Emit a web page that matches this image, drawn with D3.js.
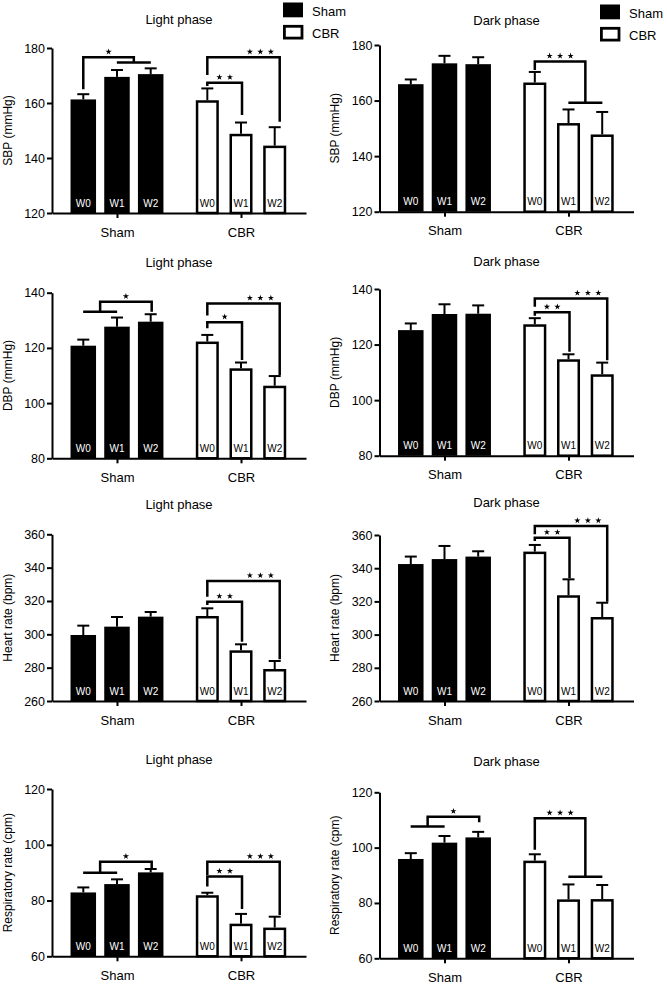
<!DOCTYPE html>
<html><head><meta charset="utf-8">
<script src="https://cdn.jsdelivr.net/npm/d3@7"></script>
<style>
body{margin:0;background:#fff}
svg{display:block}
text{font-family:"Liberation Sans",Arial,Helvetica,sans-serif;fill:#000}
</style>
</head><body>
<svg id="chart" width="667" height="984"></svg>
<script>
// ---------- data ----------
const groups = ["Sham", "CBR"];
const weeks = ["W0", "W1", "W2"];
const phases = ["Light phase", "Dark phase"];
const measures = ["SBP (mmHg)", "DBP (mmHg)", "Heart rate (bpm)", "Respiratory rate (cpm)"];

const sbpTicks = [120, 140, 160, 180];
const dbpTicks = [80, 100, 120, 140];
const hrTicks = [260, 280, 300, 320, 340, 360];
const rrTicks = [60, 80, 100, 120];

// order: Sham W0,W1,W2, CBR W0,W1,W2
const sbpLightMean = [161.3, 169.5, 170.5, 161.0, 148.8, 144.5];
const sbpLightSem  = [1.9, 2.5, 2.1, 4.3, 4.1, 6.7];
const sbpDarkMean  = [165.9, 173.4, 173.1, 166.5, 151.9, 147.8];
const sbpDarkSem   = [1.7, 2.7, 2.5, 3.8, 4.9, 8.1];
const dbpLightMean = [120.8, 127.7, 129.5, 122.3, 112.6, 106.3];
const dbpLightSem  = [2.2, 3.3, 2.7, 2.4, 2.1, 3.5];
const dbpDarkMean  = [125.2, 131.0, 131.1, 127.3, 114.7, 109.3];
const dbpDarkSem   = [2.4, 3.5, 3.0, 2.2, 1.8, 4.2];
const hrLightMean  = [299.6, 304.6, 310.6, 311.0, 290.4, 279.2];
const hrLightSem   = [5.6, 5.8, 2.8, 4.6, 3.6, 4.8];
const hrDarkMean   = [342.5, 345.5, 347.0, 350.0, 323.7, 310.6];
const hrDarkSem    = [4.5, 7.9, 3.2, 4.0, 9.6, 8.6];
const rrLightMean  = [82.9, 85.9, 90.1, 81.9, 71.7, 70.3];
const rrLightSem   = [1.8, 1.7, 1.2, 0.9, 3.5, 3.9];
const rrDarkMean   = [95.9, 101.8, 103.7, 95.3, 81.3, 81.4];
const rrDarkSem    = [2.1, 2.4, 2.0, 2.3, 5.4, 5.1];

// significance brackets (values in data units)
const sbpLightSig = [
  {group: "Sham", left: [0], leftEnd: 165.0, right: [1, 2], rightEnd: 174.7, top: 176.6, label: "*"},
  {group: "CBR", left: [0], leftEnd: 170.2, right: [2], rightEnd: 153.2, top: 176.6, label: "***"},
  {group: "CBR", left: [0], leftEnd: 166.2, right: [1], rightEnd: 155.6, top: 167.4, label: "**"}
];
const sbpDarkSig = [
  {group: "CBR", left: [0], leftEnd: 171.0, right: [1, 2], rightEnd: 159.2, top: 174.1, label: "***"}
];
const dbpLightSig = [
  {group: "Sham", left: [0, 1], leftEnd: 133.1, right: [2], rightEnd: 133.1, top: 136.7, label: "*"},
  {group: "CBR", left: [0], leftEnd: 131.7, right: [2], rightEnd: 110.2, top: 136.1, label: "***"},
  {group: "CBR", left: [0], leftEnd: 127.1, right: [1], rightEnd: 115.6, top: 129.3, label: "*"}
];
const dbpDarkSig = [
  {group: "CBR", left: [0], leftEnd: 133.6, right: [2], rightEnd: 114.4, top: 136.6, label: "***"},
  {group: "CBR", left: [0], leftEnd: 130.4, right: [1], rightEnd: 117.4, top: 131.6, label: "**"}
];
const hrLightSig = [
  {group: "CBR", left: [0], leftEnd: 322.6, right: [2], rightEnd: 285.0, top: 332.0, label: "***"},
  {group: "CBR", left: [0], leftEnd: 317.6, right: [1], rightEnd: 295.6, top: 319.6, label: "**"}
];
const hrDarkSig = [
  {group: "CBR", left: [0], leftEnd: 360.4, right: [2], rightEnd: 319.8, top: 365.4, label: "***"},
  {group: "CBR", left: [0], leftEnd: 356.4, right: [1], rightEnd: 333.9, top: 358.4, label: "**"}
];
const rrLightSig = [
  {group: "Sham", left: [0, 1], leftEnd: 90.0, right: [2], rightEnd: 91.0, top: 93.9, label: "*"},
  {group: "CBR", left: [0], leftEnd: 89.2, right: [2], rightEnd: 74.8, top: 93.9, label: "***"},
  {group: "CBR", left: [0], leftEnd: 85.0, right: [1], rightEnd: 77.0, top: 88.6, label: "**"}
];
const rrDarkSig = [
  {group: "Sham", left: [0, 1], leftEnd: 107.6, right: [2], rightEnd: 109.2, top: 111.2, label: "*"},
  {group: "CBR", left: [0], leftEnd: 99.2, right: [1, 2], rightEnd: 89.5, top: 110.6, label: "***"}
];

const panels = [
  {row: 0, col: 0, measure: measures[0], phase: phases[0], ticks: sbpTicks, mean: sbpLightMean, sem: sbpLightSem, sig: sbpLightSig},
  {row: 0, col: 1, measure: measures[0], phase: phases[1], ticks: sbpTicks, mean: sbpDarkMean, sem: sbpDarkSem, sig: sbpDarkSig},
  {row: 1, col: 0, measure: measures[1], phase: phases[0], ticks: dbpTicks, mean: dbpLightMean, sem: dbpLightSem, sig: dbpLightSig},
  {row: 1, col: 1, measure: measures[1], phase: phases[1], ticks: dbpTicks, mean: dbpDarkMean, sem: dbpDarkSem, sig: dbpDarkSig},
  {row: 2, col: 0, measure: measures[2], phase: phases[0], ticks: hrTicks, mean: hrLightMean, sem: hrLightSem, sig: hrLightSig},
  {row: 2, col: 1, measure: measures[2], phase: phases[1], ticks: hrTicks, mean: hrDarkMean, sem: hrDarkSem, sig: hrDarkSig},
  {row: 3, col: 0, measure: measures[3], phase: phases[0], ticks: rrTicks, mean: rrLightMean, sem: rrLightSem, sig: rrLightSig},
  {row: 3, col: 1, measure: measures[3], phase: phases[1], ticks: rrTicks, mean: rrDarkMean, sem: rrDarkSem, sig: rrDarkSig}
];

// ---------- layout ----------
const colX = [52, 379.5];
const plotW = 254;
const plotTop = [[48, 45], [292.7, 289], [534.3, 535], [789, 792.3]];
const plotBottom = [[213, 211.7], [458.3, 455.7], [701, 701], [956.3, 958.3]];
const titleY = [[24, 24.5], [266.7, 265.7], [509, 507], [764, 765.7]];
const legendPos = [[283, 2.5], [600, 4.5]];

const svg = d3.select("#chart");

const x0 = d3.scalePoint().domain(groups).range([0, plotW]).padding(0.524);
const x1 = d3.scaleBand().domain(weeks).range([-50.5, 50.5]).paddingInner(0.243).paddingOuter(0.12);
const bw = x1.bandwidth();
const cx = (g, wi) => x0(g) + x1(weeks[wi]) + bw / 2;
const starPath = d3.symbol().type(d3.symbolStar).size(12)();

panels.forEach(p => {
  const ax = colX[p.col];
  const top = plotTop[p.row][p.col];
  const bottom = plotBottom[p.row][p.col];
  const y = d3.scaleLinear().domain([p.ticks[0], p.ticks[p.ticks.length - 1]]).range([bottom, top]);
  const g = svg.append("g").attr("transform", `translate(${ax},0)`);

  // title
  g.append("text").attr("x", plotW / 2).attr("y", titleY[p.row][p.col])
    .attr("text-anchor", "middle").style("font-size", "13px").text(p.phase);

  // y title
  g.append("text")
    .attr("transform", `translate(-40.5,${(top + bottom) / 2}) rotate(-90)`)
    .attr("text-anchor", "middle").style("font-size", "12px").text(p.measure);

  // bars
  const rows = [];
  groups.forEach((gr, gi) => weeks.forEach((w, wi) => {
    rows.push({group: gr, gi, wi, week: w, mean: p.mean[gi * 3 + wi], sem: p.sem[gi * 3 + wi]});
  }));

  rows.forEach(d => {
    const c = cx(d.group, d.wi);
    const yt = y(d.mean);
    if (d.gi === 0) {
      g.append("rect").attr("x", c - bw / 2).attr("y", yt).attr("width", bw).attr("height", bottom - yt)
        .attr("fill", "#000");
    } else {
      const ow = bw - 2.5, sw = 2.5;
      g.append("rect").attr("x", c - ow / 2 + sw / 2).attr("y", yt + sw / 2)
        .attr("width", ow - sw).attr("height", bottom - yt - sw / 2)
        .attr("fill", "#fff").attr("stroke", "#000").attr("stroke-width", sw);
    }
    const ye = y(d.mean + d.sem);
    g.append("line").attr("x1", c).attr("x2", c).attr("y1", yt).attr("y2", ye)
      .attr("stroke", "#000").attr("stroke-width", 2);
    g.append("line").attr("x1", c - 6).attr("x2", c + 6).attr("y1", ye).attr("y2", ye)
      .attr("stroke", "#000").attr("stroke-width", 2);
    g.append("text").attr("x", c).attr("y", bottom - 6.5).attr("text-anchor", "middle")
      .style("font-size", "10px").style("fill", d.gi === 0 ? "#fff" : "#000").text(d.week);
  });

  // significance brackets
  const legX = (gr, arr) => arr.length === 1 ? cx(gr, arr[0]) : (cx(gr, arr[0]) + cx(gr, arr[1])) / 2;
  p.sig.forEach(s => {
    const inner = p.sig.find(o => o !== s && o.group === s.group && o.left.join() === s.left.join() && o.top < s.top);
    const lx = legX(s.group, s.left);
    const rx = legX(s.group, s.right) + (s.right.length === 1 ? (inner ? 5 : 1) : 0);
    const yT = y(s.top), yL = y(s.leftEnd), yR = y(s.rightEnd);
    const path = `M${lx},${yL}V${yT}H${rx}V${yR}`;
    g.append("path").attr("d", path).attr("fill", "none").attr("stroke", "#000").attr("stroke-width", 2.5);
    if (s.left.length === 2) {
      g.append("line").attr("x1", lx - 17).attr("x2", lx + 17).attr("y1", yL).attr("y2", yL)
        .attr("stroke", "#000").attr("stroke-width", 2.5);
    }
    if (s.right.length === 2) {
      g.append("line").attr("x1", rx - 17).attr("x2", rx + 17).attr("y1", yR).attr("y2", yR)
        .attr("stroke", "#000").attr("stroke-width", 2.5);
    }
    const labelX = inner ? (legX(inner.group, inner.right) + rx) / 2 : (lx + rx) / 2;
    const n = s.label.length;
    for (let k = 0; k < n; k++) {
      g.append("path").attr("d", starPath)
        .attr("transform", `translate(${labelX + (k - (n - 1) / 2) * 10.5},${yT - 5.5})`)
        .attr("fill", "#000");
    }
  });

  // y axis
  const yAxis = d3.axisLeft(y).tickValues(p.ticks).tickSize(5).tickSizeOuter(0).tickPadding(2).tickFormat(d3.format("d"));
  const ya = g.append("g").call(yAxis);
  ya.select(".domain").attr("stroke-width", 2);
  ya.selectAll(".tick line").attr("stroke-width", 2);
  ya.selectAll(".tick text").style("font-size", "12.5px").style("font-family", "'Liberation Sans',Arial,sans-serif");

  // x axis
  const xAxis = d3.axisBottom(x0).tickSize(5).tickSizeOuter(0).tickPadding(9.5);
  const xa = g.append("g").attr("transform", `translate(0,${bottom})`).call(xAxis);
  xa.select(".domain").attr("stroke-width", 2);
  xa.selectAll(".tick line").attr("stroke-width", 2);
  xa.selectAll(".tick text").style("font-size", "13px").style("font-family", "'Liberation Sans',Arial,sans-serif");
});

// legends
legendPos.forEach(([lx, ly]) => {
  const lg = svg.append("g").attr("transform", `translate(${lx},${ly})`);
  groups.forEach((gr, i) => {
    if (i === 0) {
      lg.append("rect").attr("x", 0).attr("y", 0).attr("width", 20).attr("height", 14.8).attr("fill", "#000");
    } else {
      lg.append("rect").attr("x", 1.4).attr("y", 23.8).attr("width", 17.6).attr("height", 11.8)
        .attr("fill", "#fff").attr("stroke", "#000").attr("stroke-width", 2.8);
    }
    lg.append("text").attr("x", 29).attr("y", i === 0 ? 13.5 : 35).style("font-size", "13px").text(gr);
  });
});
</script>
</body></html>
